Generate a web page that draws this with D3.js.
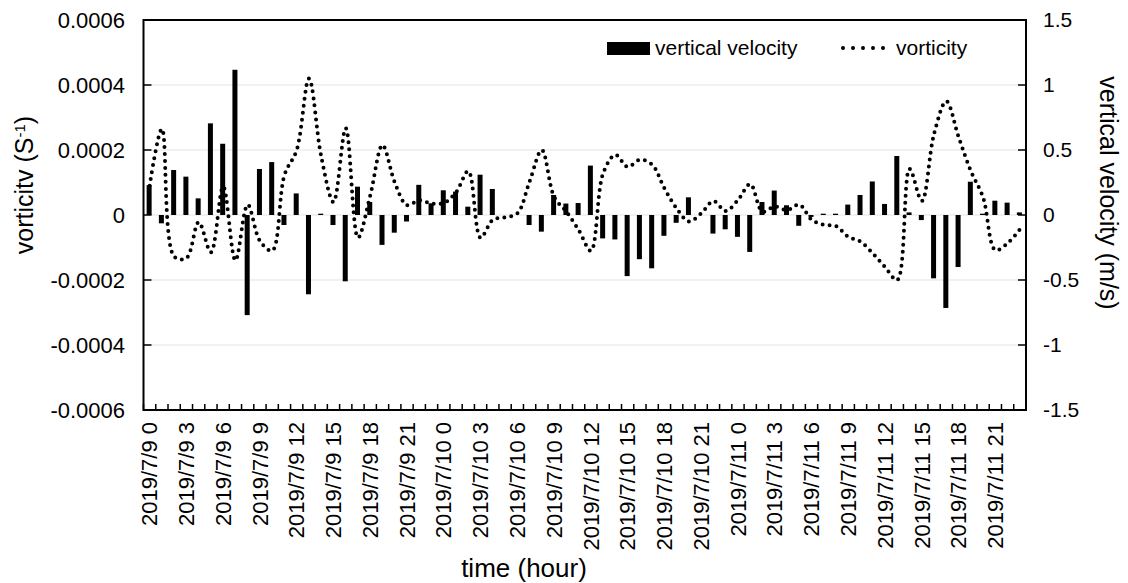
<!DOCTYPE html>
<html><head><meta charset="utf-8">
<script src="https://cdn.jsdelivr.net/npm/d3@7/dist/d3.min.js"></script>
<style>
html,body{margin:0;padding:0;background:#fff;}
svg text{font-family:"Liberation Sans",Arial,sans-serif;fill:#000;}
</style></head>
<body>
<svg id="chart" width="1128" height="583"></svg>
<script>
// ---- data ----
const days = ["2019/7/9", "2019/7/10", "2019/7/11"];
const hoursPerDay = 24;
const categories = [];
days.forEach(d => { for (let h = 0; h < hoursPerDay; h++) categories.push(d + " " + h); });

// vertical velocity (m/s) - bars, right axis
const verticalVelocity = [
  0.23, -0.064, 0.346, 0.295, 0.128, 0.705, 0.548, 1.117, -0.77, 0.354, 0.407, -0.077,
  0.166, -0.61, 0.01, -0.077, -0.51, 0.218, 0.10, -0.23, -0.136, -0.05, 0.232, 0.09,
  0.19, 0.18, 0.064, 0.31, 0.20, 0, 0, -0.077, -0.128, 0.154, 0.088, 0.092,
  0.38, -0.18, -0.188, -0.47, -0.34, -0.41, -0.16, -0.06, 0.136, 0, -0.143, -0.11,
  -0.168, -0.284, 0.10, 0.188, 0.075, -0.083, -0.015, 0.01, 0.01, 0.08, 0.154, 0.258,
  0.085, 0.454, 0.02, -0.039, -0.487, -0.715, -0.40, 0.256, 0.01, 0.11, 0.095, 0.02
];
// vorticity (s^-1) - dotted line, left axis
const vorticity = [
  0.00009, 0.000265, -0.000128, -0.000133, -0.000022, -0.000115, 0.000088, -0.00014, 0.000032, -0.00008, -0.00011, 0.000123,
  0.0002, 0.00042, 0.00018, 0.00004, 0.000267, -0.00007, 0.00006, 0.000215, 0.0001, 0.00003, 0.000045, 0.000035,
  0.000037, 0.00007, 0.000135, -0.00007, -0.000015, -0.000007, 0.000005, 0.000103, 0.0002, 0.000056, 0.00001, -0.000046,
  -0.00011, 0.000128, 0.000185, 0.000148, 0.00017, 0.000155, 0.000082, 0.00002, -0.00002, 0.000005, 0.000043, 0.000012,
  0.000046, 0.000095, 0.00001, 0.000026, 0.000015, 0.000032, -0.000014, -0.00003, -0.000034, -0.000067, -0.000082, -0.000118,
  -0.00016, -0.0002, 0.000142, 0.000043, 0.00025, 0.00035, 0.00024, 0.000135, 0.000054, -0.000108, -0.000087, -0.000044
];
const leftTicks = [-0.0006, -0.0004, -0.0002, 0, 0.0002, 0.0004, 0.0006];
const leftTickLabels = ["-0.0006", "-0.0004", "-0.0002", "0", "0.0002", "0.0004", "0.0006"];
const rightTicks = [-1.5, -1, -0.5, 0, 0.5, 1, 1.5];
const rightTickLabels = ["-1.5", "-1", "-0.5", "0", "0.5", "1", "1.5"];
const labelEvery = 3;

// ---- layout ----
const L = 143.5, R = 1026, T = 20, B = 410;
const svg = d3.select("#chart");

const x = d3.scaleBand().domain(categories).range([L, R]).paddingInner(0).paddingOuter(0);
const yL = d3.scaleLinear().domain([-0.0006, 0.0006]).range([B, T]);
const yR = d3.scaleLinear().domain([-1.5, 1.5]).range([B, T]);
const cx = c => x(c) + x.bandwidth() / 2;

// gridlines
svg.append("g").selectAll("line").data(leftTicks).join("line")
  .attr("x1", L).attr("x2", R)
  .attr("y1", d => yL(d)).attr("y2", d => yL(d))
  .attr("stroke", "#e3e3e3").attr("stroke-width", 1);

// bars
const barW = 5;
svg.append("g").selectAll("rect").data(verticalVelocity).join("rect")
  .attr("x", (d, i) => cx(categories[i]) - barW / 2 - 0.5)
  .attr("width", barW)
  .attr("y", d => Math.min(yR(d), yR(0)))
  .attr("height", d => Math.max(Math.abs(yR(d) - yR(0)), d === 0 ? 0 : 1))
  .attr("fill", "#000");

// vorticity dotted smooth line
const line = d3.line()
  .x((d, i) => cx(categories[i]))
  .y(d => yL(d))
  .curve(d3.curveCatmullRom.alpha(0.5));
svg.append("path").datum(vorticity)
  .attr("d", line)
  .attr("fill", "none").attr("stroke", "#000")
  .attr("stroke-width", 4).attr("stroke-linecap", "round")
  .attr("stroke-dasharray", "0 7");

// frame
svg.append("rect").attr("x", L).attr("y", T).attr("width", R - L).attr("height", B - T)
  .attr("fill", "none").attr("stroke", "#000").attr("stroke-width", 2);

// left axis ticks (inside)
const gl = svg.append("g");
gl.selectAll("line").data(leftTicks).join("line")
  .attr("x1", L).attr("x2", L + 8).attr("y1", d => yL(d)).attr("y2", d => yL(d))
  .attr("stroke", "#000").attr("stroke-width", 1.5);
gl.selectAll("text").data(leftTicks).join("text")
  .attr("x", 125).attr("y", d => yL(d)).attr("dy", "0.35em")
  .attr("text-anchor", "end").style("font-size", "22px")
  .text((d, i) => leftTickLabels[i]);

// right axis ticks (inside)
const gr = svg.append("g");
gr.selectAll("line").data(rightTicks).join("line")
  .attr("x1", R - 8).attr("x2", R).attr("y1", d => yR(d)).attr("y2", d => yR(d))
  .attr("stroke", "#000").attr("stroke-width", 1.5);
gr.selectAll("text").data(rightTicks).join("text")
  .attr("x", 1043).attr("y", d => yR(d)).attr("dy", "0.35em")
  .attr("text-anchor", "start").style("font-size", "21px")
  .text((d, i) => rightTickLabels[i]);

// bottom axis ticks (between categories, inside)
const boundaries = categories.map(c => x(c)).concat([R]);
svg.append("g").selectAll("line").data(boundaries).join("line")
  .attr("x1", d => d).attr("x2", d => d).attr("y1", B - 6).attr("y2", B)
  .attr("stroke", "#000").attr("stroke-width", 1.5);

// bottom labels
svg.append("g").selectAll("text")
  .data(categories.filter((c, i) => i % labelEvery === 0)).join("text")
  .attr("transform", c => `translate(${cx(c)},422) rotate(-90)`)
  .attr("dy", "0.35em").attr("text-anchor", "end").style("font-size", "22px")
  .text(c => c);

// axis titles
const lt = svg.append("text").attr("transform", "translate(33,185) rotate(-90)")
  .attr("text-anchor", "middle").style("font-size", "25px");
lt.append("tspan").text("vorticitv (S");
lt.append("tspan").attr("baseline-shift", "super").style("font-size", "15px").text("-1");
lt.append("tspan").text(")");

svg.append("text").attr("transform", "translate(1100,193) rotate(90)")
  .attr("text-anchor", "middle").style("font-size", "25px")
  .text("vertical velocity (m/s)");

svg.append("text").attr("x", 524).attr("y", 577)
  .attr("text-anchor", "middle").style("font-size", "26px")
  .text("time (hour)");

// legend
svg.append("rect").attr("x", 607).attr("y", 42).attr("width", 43).attr("height", 13).attr("fill", "#000");
svg.append("text").attr("x", 655).attr("y", 55).style("font-size", "21px").text("vertical velocity");
svg.append("line").attr("x1", 843).attr("x2", 884).attr("y1", 48).attr("y2", 48)
  .attr("stroke", "#000").attr("stroke-width", 4).attr("stroke-linecap", "round")
  .attr("stroke-dasharray", "0 10");
svg.append("text").attr("x", 896).attr("y", 55).style("font-size", "21px").text("vorticity");
</script>
</body></html>
